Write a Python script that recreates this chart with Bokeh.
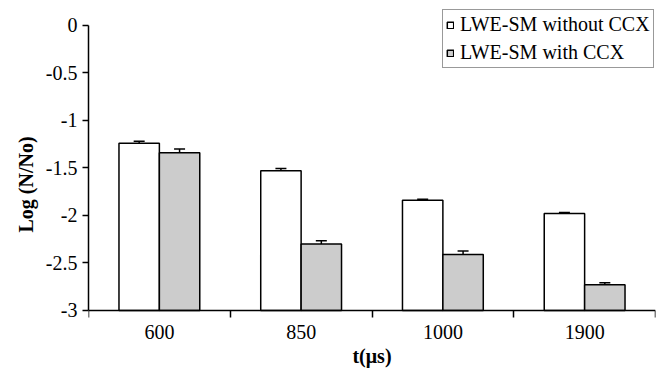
from bokeh.plotting import figure
from bokeh.models import ColumnDataSource, FixedTicker, Whisker, TeeHead, Legend, LegendItem, Range1d
from bokeh.embed import file_html
from bokeh.resources import INLINE

categories = ["600", "850", "1000", "1900"]
without_ccx = [-1.24, -1.53, -1.84, -1.98]
without_err = [0.02, 0.025, 0.012, 0.012]
with_ccx = [-1.34, -2.30, -2.41, -2.73]
with_err = [0.04, 0.035, 0.035, 0.023]
y_ticks = [0, -0.5, -1, -1.5, -2, -2.5, -3]
y_tick_labels = ["0", "-0.5", "-1", "-1.5", "-2", "-2.5", "-3"]

FONT = "Liberation Serif"
bw = 0.285
centers = [i + 0.5 for i in range(len(categories))]

def src(vals, errs, off):
    return ColumnDataSource(dict(
        x=[c + off for c in centers],
        top=vals,
        upper=[v + e for v, e in zip(vals, errs)],
        lower=[v - e for v, e in zip(vals, errs)],
    ))

s1 = src(without_ccx, without_err, -bw / 2)
s2 = src(with_ccx, with_err, bw / 2)

p = figure(width=662, height=368, output_backend="svg", toolbar_location=None,
           x_range=Range1d(0, len(categories)), y_range=Range1d(-3.611, 0.263),
           min_border_left=88, min_border_right=7, min_border_top=0, min_border_bottom=0)
p.outline_line_color = None
p.xgrid.grid_line_color = None
p.ygrid.grid_line_color = None

r1 = p.vbar(x="x", top="top", bottom=-3, width=bw, source=s1,
            fill_color="white", line_color="black", line_width=1.5)
r2 = p.vbar(x="x", top="top", bottom=-3, width=bw, source=s2,
            fill_color="#cccccc", line_color="black", line_width=1.5)

for s in (s1, s2):
    w = Whisker(base="x", upper="upper", lower="lower", source=s,
                line_color="black", line_width=1.5,
                upper_head=TeeHead(size=11, line_color="black", line_width=1.5),
                lower_head=TeeHead(size=11, line_color="black", line_width=1.5))
    p.add_layout(w)

# x axis
p.xaxis.fixed_location = -3
p.xaxis.ticker = FixedTicker(ticks=centers, minor_ticks=list(range(len(categories) + 1)))
p.xaxis.major_label_overrides = {c: lab for c, lab in zip(centers, categories)}
p.xaxis.major_tick_line_color = None
p.xaxis.major_tick_out = 0
p.xaxis.major_tick_in = 0
p.xaxis.minor_tick_out = 7
p.xaxis.minor_tick_in = 0
p.xaxis.minor_tick_line_color = "black"
p.xaxis.minor_tick_line_width = 1.5
p.xaxis.major_label_standoff = 8
p.xaxis.axis_label = "t(μs)"
p.xaxis.axis_label_standoff = 2

# y axis
p.yaxis.ticker = FixedTicker(ticks=y_ticks, minor_ticks=[])
p.yaxis.major_label_overrides = {t: lab for t, lab in zip(y_ticks, y_tick_labels)}
p.yaxis.bounds = (-3, 0)
p.yaxis.major_tick_out = 6
p.yaxis.major_tick_in = 0
p.yaxis.major_label_standoff = 5
p.yaxis.axis_label = "Log (N/No)"
p.yaxis.axis_label_standoff = 6

for ax in (p.xaxis, p.yaxis):
    ax.axis_line_color = "black"
    ax.axis_line_width = 1.5
    ax.major_tick_line_width = 1.5
    ax.major_label_text_font = FONT
    ax.major_label_text_font_size = "20px"
    ax.major_label_text_color = "black"
    ax.axis_label_text_font = FONT
    ax.axis_label_text_font_size = "20px"
    ax.axis_label_text_font_style = "bold"
    ax.axis_label_text_color = "black"

legend = Legend(items=[LegendItem(label="LWE-SM without CCX", renderers=[r1]),
                       LegendItem(label="LWE-SM with CCX", renderers=[r2])],
                location=(354, 300))
legend.label_text_font = FONT
legend.label_text_font_size = "20px"
legend.label_text_color = "black"
legend.glyph_width = 8
legend.glyph_height = 8
legend.label_standoff = 6
legend.label_height = 20
legend.spacing = 5
legend.padding = 3
legend.margin = 0
legend.border_line_color = "#333333"
legend.border_line_width = 1.5
legend.background_fill_color = "white"
legend.background_fill_alpha = 1
p.add_layout(legend, "center")

open("out.html", "w").write(file_html(p, INLINE))
